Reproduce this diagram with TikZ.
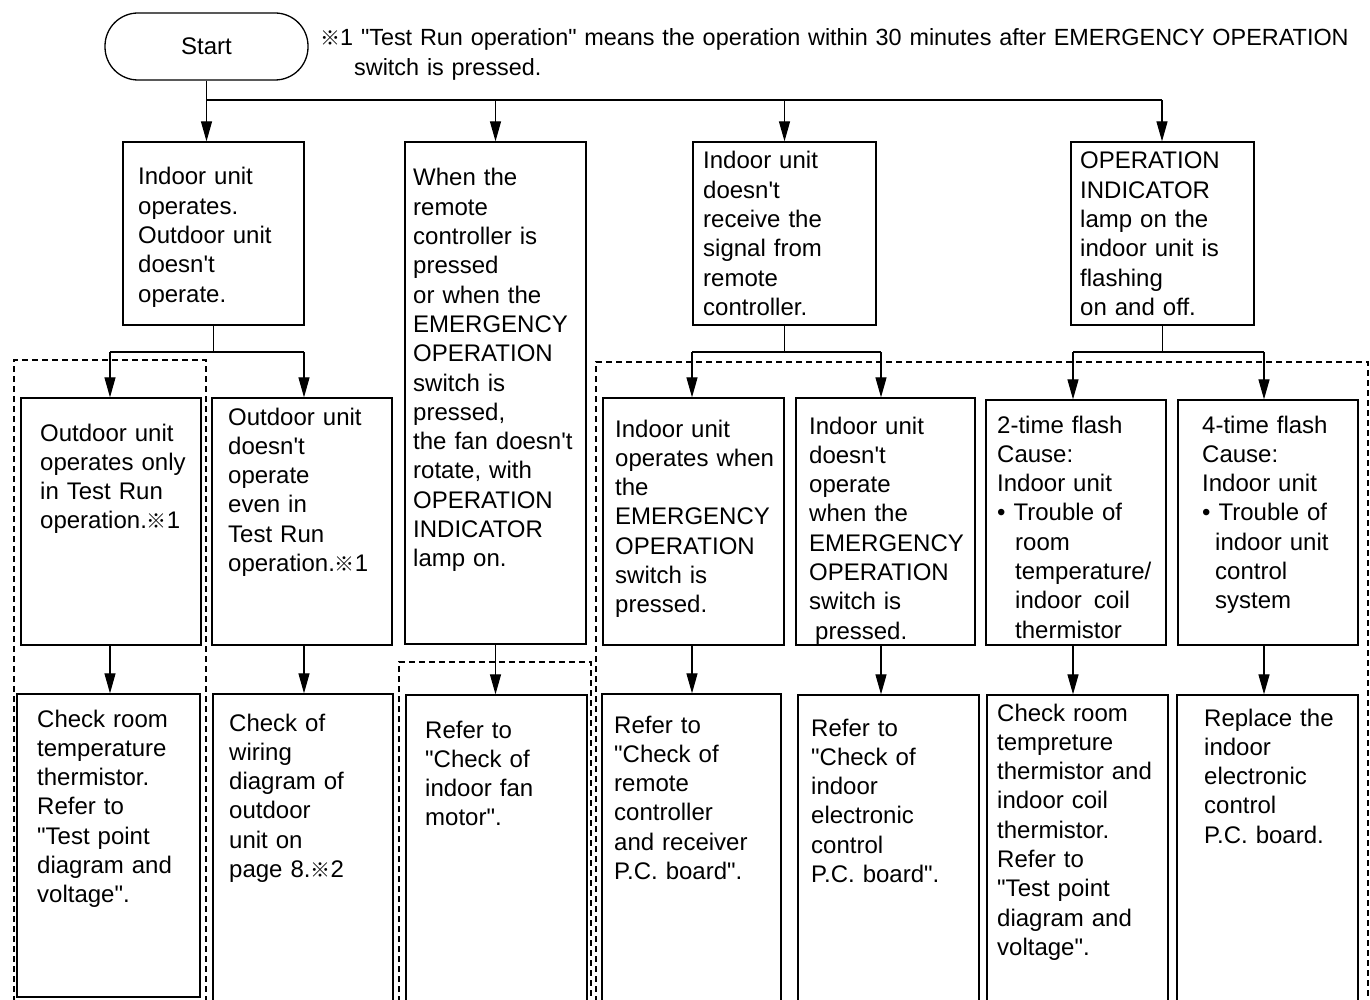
\documentclass[tikz,border=0pt]{standalone}
\usepackage{fontspec}
\newfontfamily\arialf{Liberation Sans}
\newfontfamily\cjkf{Noto Sans CJK JP}
\newcommand{\refmk}{{\cjkf\fontsize{20}{20}\selectfont ※}}
\usetikzlibrary{arrows.meta}
\newcommand{\bx}[5]{\node[boxst, minimum width={#4pt-#2pt}, minimum height={#5pt-#3pt}] (#1) at ({(#2+#4)/2},{(#3+#5)/2}) {};}
\begin{document}
\begin{tikzpicture}[x=1pt,y=-1pt,
  boxst/.style={draw, line width=1.3pt, inner sep=0pt, rectangle},
  txt/.style={anchor=base west, inner sep=0pt, text width=240pt, align=left, font=\arialf\fontsize{24}{29.3}\selectfont},
  conn/.style={line width=1.2pt},
  arr/.style={conn, -{Triangle[length=20pt,width=11pt]}},
  dsh/.style={line width=1.1pt, dash pattern=on 6pt off 4pt}]
\useasboundingbox (0,0) rectangle (1370,1000);
\clip (0,0) rectangle (1370,1000);
\fill[white] (0,0) rectangle (1370,1000);

% start
\node[draw, line width=1.3pt, rounded corners=33pt, minimum width=203pt, minimum height=67pt, inner sep=0pt, font=\arialf\fontsize{24}{29}\selectfont] (start) at (206.5,46.5) {Start};
\node[txt, text width=1100pt, font=\arialf\fontsize{23.4}{30}\selectfont] (note) at (320,46) {\refmk1 "Test Run operation" means the operation within 30 minutes after EMERGENCY OPERATION\\\hspace*{34pt}switch is pressed.};

% boxes
\bx{A1}{123}{142}{304}{325}
\bx{A2}{405}{142}{586}{644}
\bx{A3}{693}{142}{876}{325}
\bx{A4}{1071}{142}{1254}{325}
\bx{B1}{21}{398}{201}{645}
\bx{B2}{212}{398}{392}{645}
\bx{B3}{603}{398}{784}{645}
\bx{B4}{796}{398}{975}{645}
\bx{B5}{986}{400}{1166}{645}
\bx{B6}{1178}{400}{1358}{645}
\bx{C1}{17}{694}{200}{997}
\bx{C2}{213}{694}{393}{1012}
\bx{C3}{406}{695}{587}{1012}
\bx{C4}{602}{694}{781}{1012}
\bx{C5}{798}{695}{979}{1012}
\bx{C6}{987}{695}{1168}{1012}
\bx{C7}{1177}{695}{1358}{1012}

% texts
\node[txt] (tA1) at (138,185) {Indoor unit\\operates.\\Outdoor unit\\doesn't\\operate.};
\node[txt] (tA2) at (413,186) {When the\\remote\\controller is\\pressed\\or when the\\EMERGENCY\\OPERATION\\switch is\\pressed,\\the fan doesn't\\rotate, with\\OPERATION\\INDICATOR\\lamp on.};
\node[txt] (tA3) at (703,169) {Indoor unit\\doesn't\\receive the\\signal from\\remote\\controller.};
\node[txt] (tA4) at (1080,169) {OPERATION\\INDICATOR\\lamp on the\\indoor unit is\\flashing\\on and off.};
\node[txt] (tB1) at (40,441) {Outdoor unit\\operates only\\in Test Run\\operation.\refmk1};
\node[txt] (tB2) at (228,425) {Outdoor unit\\doesn't\\operate\\even in\\Test Run\\operation.\refmk1};
\node[txt] (tB3) at (615,437) {Indoor unit\\operates when\\the\\EMERGENCY\\OPERATION\\switch is\\pressed.};
\node[txt] (tB4) at (809,434) {Indoor unit\\doesn't\\operate\\when the\\EMERGENCY\\OPERATION\\switch is\\\hspace*{6pt}pressed.};
\node[txt] (tB5) at (997,433) {2-time flash\\Cause:\\Indoor unit\\• Trouble of\\\hspace*{18pt}room\\\hspace*{18pt}temperature/\\\hspace*{18pt}indoor\hspace{4pt} coil\\\hspace*{18pt}thermistor};
\node[txt] (tB6) at (1202,433) {4-time flash\\Cause:\\Indoor unit\\• Trouble of\\\hspace*{13pt}indoor unit\\\hspace*{13pt}control\\\hspace*{13pt}system};
\node[txt] (tC1) at (37,727) {Check room\\temperature\\thermistor.\\Refer to\\"Test point\\diagram and\\voltage".};
\node[txt] (tC2) at (229,731) {Check of\\wiring\\diagram of\\outdoor\\unit on\\page 8.\refmk2};
\node[txt] (tC3) at (425,738) {Refer to\\"Check of\\indoor fan\\motor".};
\node[txt] (tC4) at (614,733) {Refer to\\"Check of\\remote\\controller\\and receiver\\P.C. board".};
\node[txt] (tC5) at (811,736) {Refer to\\"Check of\\indoor\\electronic\\control\\P.C. board".};
\node[txt] (tC6) at (997,721) {Check room\\tempreture\\thermistor and\\indoor coil\\thermistor.\\Refer to\\"Test point\\diagram and\\voltage".};
\node[txt] (tC7) at (1204,726) {Replace the\\indoor\\electronic\\control\\P.C. board.};

% dashed groups
\draw[dsh] (14,1012) -- (14,360) -- (206,360) -- (206,1012);
\draw[dsh] (399,1012) -- (399,662) -- (591,662) -- (591,1012);
\draw[dsh] (596,1012) -- (596,362) -- (1368,362) -- (1368,1012);

% trunk
\coordinate (j0) at (206.5,100);
\coordinate (j0r) at (1162,100);
\draw[conn] (start.south) -- (j0);
\draw[conn] (j0) -- (j0r);
\draw[arr] (j0) -- (j0 |- A1.north);
\draw[arr] (j0 -| A2.north) -- (A2.north);
\draw[arr] (j0 -| A3.north) -- (A3.north);
\draw[arr] (j0r) -- (j0r |- A4.north);

% A1 split
\coordinate (s1l) at (110,352);
\coordinate (s1r) at (304,352);
\draw[conn] (A1.south) -- (A1.south |- s1l);
\draw[conn] (s1l) -- (s1r);
\draw[arr] (s1l) -- (s1l |- B1.north);
\draw[arr] (s1r) -- (s1r |- B2.north);
\coordinate (b1x) at (110,645);
\coordinate (b2x) at (304,645);
\draw[arr] (b1x) -- (b1x |- C1.north);
\draw[arr] (b2x) -- (b2x |- C2.north);

% A2
\draw[arr] (A2.south) -- (A2.south |- C3.north);

% A3 split
\coordinate (s3l) at (692,352);
\coordinate (s3r) at (881,352);
\draw[conn] (A3.south) -- (A3.south |- s3l);
\draw[conn] (s3l) -- (s3r);
\draw[arr] (s3l) -- (s3l |- B3.north);
\draw[arr] (s3r) -- (s3r |- B4.north);
\coordinate (b3x) at (692,645);
\coordinate (b4x) at (881,645);
\draw[arr] (b3x) -- (b3x |- C4.north);
\draw[arr] (b4x) -- (b4x |- C5.north);

% A4 split
\coordinate (s4l) at (1073,352);
\coordinate (s4r) at (1264,352);
\draw[conn] (A4.south) -- (A4.south |- s4l);
\draw[conn] (s4l) -- (s4r);
\draw[arr] (s4l) -- (s4l |- B5.north);
\draw[arr] (s4r) -- (s4r |- B6.north);
\coordinate (b5x) at (1073,645);
\coordinate (b6x) at (1264,645);
\draw[arr] (b5x) -- (b5x |- C6.north);
\draw[arr] (b6x) -- (b6x |- C7.north);
\end{tikzpicture}
\end{document}
